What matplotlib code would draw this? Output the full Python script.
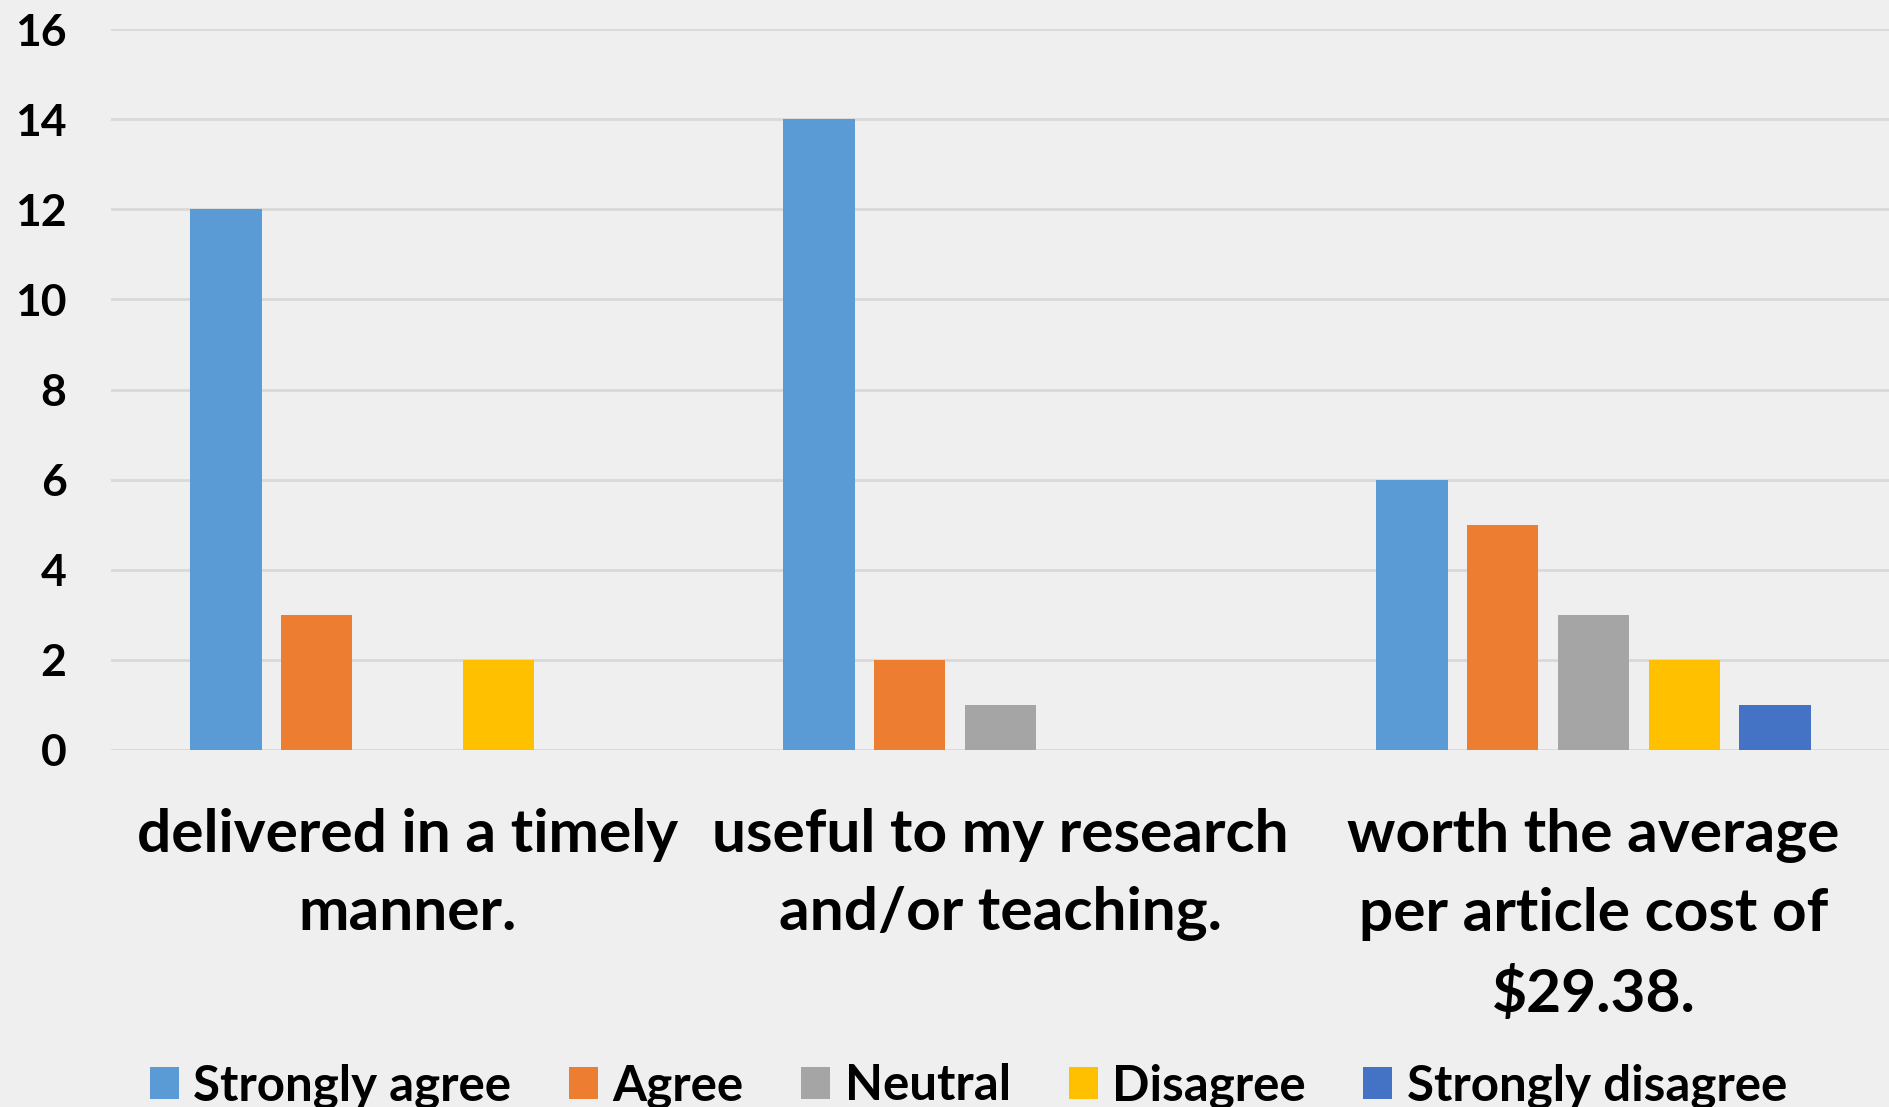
import matplotlib
matplotlib.use("Agg")
import matplotlib.pyplot as plt
from matplotlib.patches import Patch
import numpy as np

categories = ["delivered in a timely\nmanner.",
              "useful to my research\nand/or teaching.",
              "worth the average\nper article cost of\n$29.38."]
series_names = ["Strongly agree", "Agree", "Neutral", "Disagree", "Strongly disagree"]
strongly_agree = [12, 14, 6]
agree = [3, 2, 5]
neutral = [0, 1, 3]
disagree = [2, 0, 2]
strongly_disagree = [0, 0, 1]
y_ticks = [0, 2, 4, 6, 8, 10, 12, 14, 16]

values = [strongly_agree, agree, neutral, disagree, strongly_disagree]
colors = ["#5B9BD5", "#ED7D31", "#A5A5A5", "#FFC000", "#4472C4"]
bg = "#EFEFEF"

plt.rcParams['font.family'] = ['Lato', 'DejaVu Sans']
plt.rcParams['font.weight'] = 'bold'

fig = plt.figure(figsize=(18.9, 11.07), dpi=100, facecolor=bg)
ax = fig.add_axes([111/1890, 1-750/1107, 1-111/1890, (750-29)/1107])
ax.set_facecolor(bg)

x = np.arange(len(categories))
slot = 0.153
bw = 0.12
for i, (vals, c) in enumerate(zip(values, colors)):
    ax.bar(x + (i - 2) * slot, vals, width=bw, color=c, zorder=3, label=series_names[i])

ax.set_xlim(-0.5, 2.5)
ax.set_ylim(0, 16)
ax.set_yticks(y_ticks)
ax.set_yticklabels([str(t) for t in y_ticks], fontsize=32, fontweight='bold')
ax.yaxis.grid(True, color="#D9D9D9", linewidth=2, zorder=0)
ax.tick_params(axis='y', length=0, pad=32)
ax.set_xticks(x)
ax.set_xticklabels(categories, fontsize=43.5, fontweight='bold', linespacing=1.55)
ax.tick_params(axis='x', length=0, pad=41.5)
for s in ax.spines.values():
    s.set_visible(False)
ax.set_axisbelow(True)

handles = [Patch(facecolor=c, edgecolor='none') for c in colors]
fig.legend(handles, series_names, loc='center', bbox_to_anchor=(0.5124, 1-1086/1107),
           ncol=5, frameon=False, handlelength=0.59, handleheight=0.61,
           handletextpad=0.29, columnspacing=1.17, prop={'weight': 'bold', 'size': 35.5})

fig.savefig("out.png", dpi=100, facecolor=bg)
